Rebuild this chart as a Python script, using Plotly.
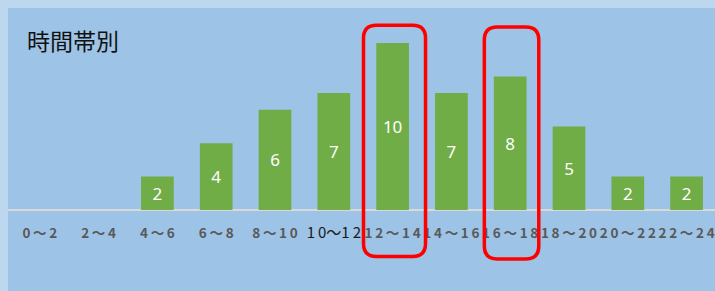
import plotly.graph_objects as go

categories = ["0～2", "2～4", "4～6", "6～8", "8～10", "10～12",
              "12～14", "14～16", "16～18", "18～20", "20～22", "22～24"]
counts = [0, 0, 2, 4, 6, 7, 10, 7, 8, 5, 2, 2]
highlighted = ["12～14", "16～18"]
title_text = "時間帯別"

idx = list(range(len(categories)))
THIN = "\u2009"


def spaced(label):
    return THIN.join(label)


ticktext = []
for c in categories:
    if c == "10～12":
        a, b = c.split("～")
        ticktext.append("<span style='color:#1a1a1a;font-weight:normal;font-size:15px'>"
                        + THIN.join(a) + "～" + THIN.join(b) + "</span>")
    else:
        ticktext.append("<b>" + spaced(c) + "</b>")

fig = go.Figure()
fig.add_trace(go.Bar(
    x=idx, y=counts,
    width=0.556,
    marker=dict(color="#70AD47", line=dict(width=0)),
    text=[str(v) if v else "" for v in counts],
    textposition="inside",
    insidetextanchor="middle",
    textfont=dict(color="white", size=17, family="Noto Sans, Liberation Sans, sans-serif"),
    constraintext="none",
    hoverinfo="skip",
))


def rounded_rect(x0, x1, y0, y1, rx, ry):
    return (f"M {x0+rx},{y1} L {x1-rx},{y1} Q {x1},{y1} {x1},{y1-ry} "
            f"L {x1},{y0+ry} Q {x1},{y0} {x1-rx},{y0} "
            f"L {x0+rx},{y0} Q {x0},{y0} {x0},{y0+ry} "
            f"L {x0},{y1-ry} Q {x0},{y1} {x0+rx},{y1} Z")


frame_extents = {
    "12～14": (-0.495, 0.56, -2.78, 11.06),
    "16～18": (-0.44, 0.486, -2.93, 10.96),
}
shapes = []
for h in highlighted:
    i = categories.index(h)
    dx0, dx1, y0, y1 = frame_extents[h]
    shapes.append(dict(
        type="path", xref="x", yref="y",
        path=rounded_rect(i + dx0, i + dx1, y0, y1, 0.22, 0.78),
        line=dict(color="#FF0000", width=3.5),
        fillcolor="rgba(0,0,0,0)",
        layer="above",
    ))

fig.update_layout(
    width=715, height=291,
    margin=dict(l=8, r=0, t=8, b=0),
    paper_bgcolor="#BDD7EE",
    plot_bgcolor="#9DC3E6",
    showlegend=False,
    shapes=shapes,
    xaxis=dict(
        range=[-0.541, 11.483],
        tickmode="array", tickvals=idx, ticktext=ticktext,
        showgrid=False, zeroline=False, showline=False,
        anchor="free", position=(291 - 210) / 283,
        tickfont=dict(color="#595959", size=13.5, family="Noto Sans CJK JP"),
        ticks="", ticklabelstandoff=13, tickangle=0,
        fixedrange=True,
    ),
    yaxis=dict(
        range=[-4.85, 12.096],
        showticklabels=False, showgrid=False,
        zeroline=True, zerolinecolor="#D9D9D9", zerolinewidth=2,
        fixedrange=True,
    ),
    annotations=[dict(
        text=title_text, xref="paper", yref="paper",
        x=(25 - 8) / 707, y=(291 - 40) / 283,
        xanchor="left", yanchor="middle", showarrow=False,
        font=dict(size=23, color="#111111", family="Noto Sans CJK JP"),
    )],
)

fig.write_html(
    "out.html",
    config={"displayModeBar": False},
    post_script="document.body.style.margin='0';document.body.style.overflow='hidden';document.body.style.background='#BDD7EE';",
)
